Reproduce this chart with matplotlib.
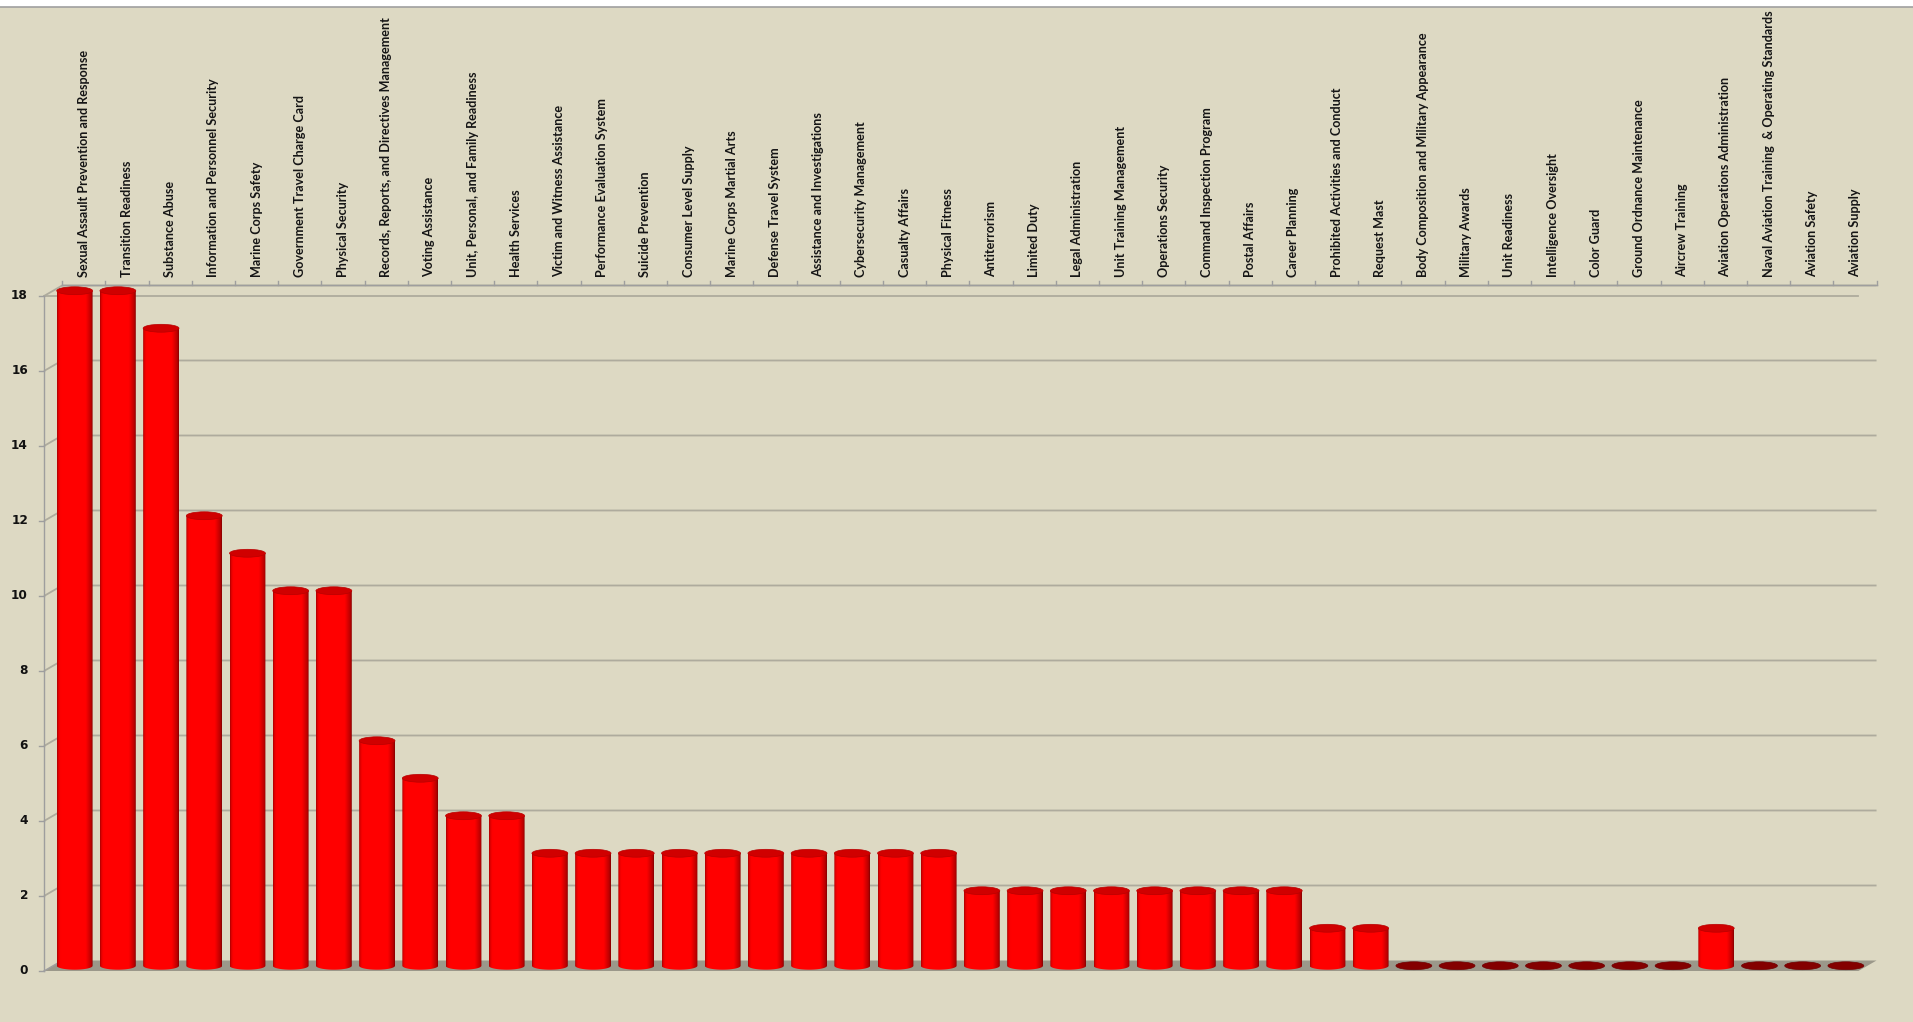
import numpy as np
import matplotlib
matplotlib.use("Agg")
import matplotlib.pyplot as plt
from matplotlib.patches import Ellipse, Polygon, PathPatch, Rectangle
from matplotlib.path import Path
from matplotlib.lines import Line2D

categories = [
    "Sexual Assault Prevention and Response", "Transition Readiness", "Substance Abuse",
    "Information and Personnel Security", "Marine Corps Safety", "Government Travel Charge Card",
    "Physical Security", "Records, Reports, and Directives Management", "Voting Assistance",
    "Unit, Personal, and Family Readiness", "Health Services", "Victim and Witness Assistance",
    "Performance Evaluation System", "Suicide Prevention", "Consumer Level Supply",
    "Marine Corps Martial Arts", "Defense Travel System", "Assistance and Investigations",
    "Cybersecurity Management", "Casualty Affairs", "Physical Fitness", "Antiterrorism",
    "Limited Duty", "Legal Administration", "Unit Training Management", "Operations Security",
    "Command Inspection Program", "Postal Affairs", "Career Planning",
    "Prohibited Activities and Conduct", "Request Mast", "Body Composition and Military Appearance",
    "Military Awards", "Unit Readiness", "Intelligence Oversight", "Color Guard",
    "Ground Ordnance Maintenance", "Aircrew Training", "Aviation Operations Administration",
    "Naval Aviation Training  & Operating Standards", "Aviation Safety", "Aviation Supply",
]
values = [18, 18, 17, 12, 11, 10, 10, 6, 5, 4, 4, 3, 3, 3, 3, 3, 3, 3, 3, 3, 3,
          2, 2, 2, 2, 2, 2, 2, 2, 1, 1, 0, 0, 0, 0, 0, 0, 0, 1, 0, 0, 0]
yticks = [0, 2, 4, 6, 8, 10, 12, 14, 16, 18]

BG = "#DDD9C3"
GRID = "#AEAB9D"
AXC = "#9E9E9E"
FLOOR = "#9B988A"

n = len(categories)
ymax = 18
ox, oy = 0.42, 0.28          # 3-D depth offset (category units, value units)
bw, eh = 0.83, 0.21          # cylinder width and ellipse height

fig = plt.figure(figsize=(19.13, 10.22), dpi=100)
fig.patch.set_facecolor("white")
ax = fig.add_axes([0, 0, 1, 1])
ax.set_xlim(-1.5185, 42.764)
ax.set_ylim(-1.36, 25.893)
ax.axis("off")

# background panel with thin top line
ax.add_patch(Rectangle((0, 0), 1, 1 - 7 / 1022, transform=ax.transAxes,
                       facecolor=BG, edgecolor="none", zorder=0))
ax.add_line(Line2D([0, 1], [1 - 7 / 1022] * 2, transform=ax.transAxes,
                   color="#A0A0A0", lw=1.2, zorder=0.1))

x0, x1 = -0.5, n - 0.5

# back-wall gridlines with side-wall diagonals
for v in yticks:
    if v == 0:
        continue
    ax.plot([x0, x0 + ox, x1 + ox], [v, v + oy, v + oy], color=GRID, lw=1.3, zorder=0.5,
            solid_capstyle="butt")
# front line at top value
ax.plot([x0, x1], [ymax, ymax], color=GRID, lw=1.3, zorder=0.6)

# floor
ax.add_patch(Polygon([(x0, 0), (x1, 0), (x1 + ox, oy), (x0 + ox, oy)], closed=True,
                     facecolor=FLOOR, edgecolor="none", zorder=1))

# front value axis and ticks
ax.plot([x0, x0], [0, ymax], color=AXC, lw=1.0, zorder=1.2)
ax.plot([x0, x0 + ox], [0, oy], color=AXC, lw=1.0, zorder=1.2)
for v in yticks:
    ax.plot([x0 - 0.11, x0], [v, v], color=AXC, lw=1.0, zorder=1.2)
    ax.text(x0 - 0.37, v, str(v), ha="right", va="center", fontsize=8.7,
            fontweight="bold", family="DejaVu Sans", color="#111111")

# category axis on top (back plane)
ax.plot([x0 + ox, x1 + ox], [ymax + oy, ymax + oy], color=AXC, lw=1.0, zorder=0.7)
for i in range(n + 1):
    xt = i - 0.5 + ox
    ax.plot([xt, xt], [ymax + oy, ymax + oy + 0.11], color=AXC, lw=1.0, zorder=0.7)
for i, lab in enumerate(categories):
    ax.text(i + ox, ymax + oy + 0.22, lab, rotation=90, ha="center", va="bottom",
            fontsize=9.1, fontweight="bold", family=["Lato", "DejaVu Sans"], color="#151515")

# cylinder gradient
t = np.linspace(0, 1, 128)
lum = np.clip(0.72 + 0.6 * np.cos((t - 0.45) * np.pi * 0.98), 0, 1)
lum[t < 0.03] *= 0.85
lum[t > 0.97] *= 0.85
grad = np.zeros((1, len(t), 3))
grad[0, :, 0] = lum

base = oy / 2
for i, v in enumerate(values):
    cx = i + ox / 2
    xl, xr = cx - bw / 2, cx + bw / 2
    if v <= 0:
        ax.add_patch(Ellipse((cx, base), bw, eh, facecolor="#840000",
                             edgecolor="#6E0000", lw=0.5, zorder=3))
        continue
    top = base + v
    th = np.linspace(np.pi, 2 * np.pi, 40)
    bottom = [(cx + bw / 2 * np.cos(a), base + eh / 2 * np.sin(a)) for a in th]
    verts = [(xl, top)] + bottom + [(xr, top), (xl, top)]
    path = Path(verts, closed=True)
    body = PathPatch(path, facecolor="none", edgecolor="none", transform=ax.transData)
    ax.add_patch(body)
    im = ax.imshow(grad, extent=(xl, xr, base - eh / 2, top), aspect="auto",
                   interpolation="bilinear", zorder=3)
    im.set_clip_path(body)
    ax.add_patch(Ellipse((cx, top), bw, eh, facecolor="#D00000",
                         edgecolor="#B80000", lw=0.5, zorder=3.5))

ax.set_xlim(-1.5185, 42.764)
ax.set_ylim(-1.36, 25.893)
fig.savefig("out.png", dpi=100, facecolor=fig.get_facecolor())
